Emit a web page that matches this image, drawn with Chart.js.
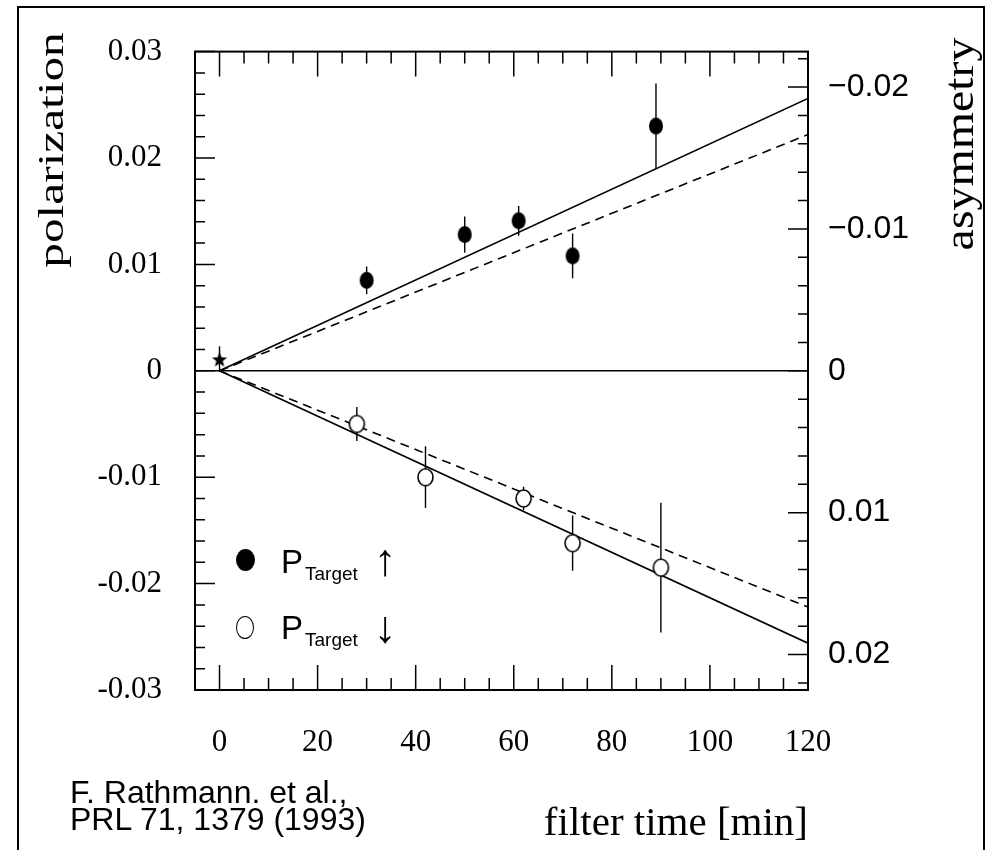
<!DOCTYPE html>
<html>
<head>
<meta charset="utf-8">
<script src="https://cdn.jsdelivr.net/npm/chart.js@4.4.3/dist/chart.umd.min.js"></script>
<style>
  html, body { margin: 0; padding: 0; background: #fff; }
  #wrap { position: relative; width: 989px; height: 850px; overflow: hidden; background: #fff; }
  #chart { position: absolute; left: 0; top: 0; }
  .frame { position: absolute; left: 17px; top: 6px; width: 964px; height: 900px; border: 2px solid #000; border-bottom: none; pointer-events: none; }
  .ytitle { position: absolute; font-family: "Liberation Serif", "Times New Roman", serif; color: #000; white-space: nowrap; line-height: 1; }
  .leg { position: absolute; font-family: "Liberation Sans", Arial, sans-serif; color: #000; white-space: nowrap; line-height: 1; }
  .arrow { position: absolute; font-family: "Liberation Sans", Arial, sans-serif; font-size: 45px; line-height: 1; color: #000; }
  .dot { position: absolute; border-radius: 50%; box-sizing: border-box; }
  .cite { position: absolute; left: 70px; top: 779px; font-family: "Liberation Sans", Arial, sans-serif; font-size: 32px; line-height: 27px; color: #000; white-space: nowrap; }
</style>
</head>
<body>
<div id="wrap">
  <canvas id="chart" width="989" height="850"></canvas>
  <div class="frame"></div>

  <div class="ytitle" style="left:51px; top:150px; font-size:36px; transform: translate(-50%, -50%) rotate(-90deg) scale(1.37, 1);">polarization</div>
  <div class="ytitle" style="left:959px; top:144px; font-size:42px; transform: translate(-50%, -50%) rotate(-90deg) scale(1.14, 1);">asymmetry</div>

  <div class="dot" style="left:236px; top:549px; width:19px; height:22px; background:#000;"></div>
  <div class="leg" style="left:281px; top:545px; font-size:33px;">P</div>
  <div class="leg" style="left:305px; top:564px; font-size:19px;">Target</div>
  <div class="arrow" style="left:374px; top:537px;">&#8593;</div>

  <div class="dot" style="left:236px; top:616px; width:18px; height:23px; background:#fff; border:1.6px solid #000;"></div>
  <div class="leg" style="left:281px; top:611px; font-size:33px;">P</div>
  <div class="leg" style="left:305px; top:630px; font-size:19px;">Target</div>
  <div class="arrow" style="left:374px; top:604px;">&#8595;</div>

  <div class="cite">F. Rathmann. et al.,<br>PRL 71, 1379 (1993)</div>
</div>
<script>
(function () {
  'use strict';

  // filter time [min] vs polarization, target spin up
  var upTime = [30, 50, 61, 72, 89];
  var upPol  = [0.0085, 0.0128, 0.0141, 0.0108, 0.0230];
  var upErr  = [0.0013, 0.0017, 0.0014, 0.0021, 0.0040];

  // target spin down
  var downTime = [28, 42, 62, 72, 90];
  var downPol  = [-0.0050, -0.0100, -0.0120, -0.0162, -0.0185];
  var downErr  = [0.0016, 0.0029, 0.0011, 0.0026, 0.0061];

  // reference point at t = 0
  var refTime = [0];
  var refPol  = [0.0011];
  var refErr  = [0.0012];

  // fitted lines
  var fitTime       = [0, 120];
  var fitUpSolid    = [0, 0.0256];
  var fitUpDashed   = [0, 0.0222];
  var fitDownSolid  = [0, -0.0256];
  var fitDownDashed = [0, -0.0222];
  var zeroTime      = [-5, 120];
  var zeroPol       = [0, 0];

  // axes
  var timeTicks      = [0, 20, 40, 60, 80, 100, 120];
  var timeTickLabels = ['0', '20', '40', '60', '80', '100', '120'];
  var polTicks       = [-0.03, -0.02, -0.01, 0, 0.01, 0.02, 0.03];
  var polTickLabels  = ['-0.03', '-0.02', '-0.01', '0', '0.01', '0.02', '0.03'];
  var asymTicks      = [-0.02, -0.01, 0, 0.01, 0.02];
  var asymTickLabels = ['\u22120.02', '\u22120.01', '0', '0.01', '0.02'];

  function ellipseMark(w, h, filled) {
    var c = document.createElement('canvas');
    c.width = w + 4; c.height = h + 4;
    var g = c.getContext('2d');
    g.beginPath();
    g.ellipse(c.width / 2, c.height / 2, w / 2, h / 2, 0, 0, Math.PI * 2);
    g.fillStyle = filled ? '#000' : '#fff';
    g.fill();
    if (!filled) { g.lineWidth = 1.6; g.strokeStyle = '#000'; g.stroke(); }
    return c;
  }

  function starMark(r) {
    var c = document.createElement('canvas');
    c.width = c.height = r * 2 + 4;
    var g = c.getContext('2d');
    var cx = c.width / 2, cy = c.height / 2 + 1;
    g.beginPath();
    for (var i = 0; i < 10; i++) {
      var rr = i % 2 === 0 ? r : r * 0.42;
      var a = -Math.PI / 2 + i * Math.PI / 5;
      g.lineTo(cx + rr * Math.cos(a), cy + rr * Math.sin(a));
    }
    g.closePath();
    g.fillStyle = '#000';
    g.fill();
    return c;
  }

  function pts(xs, ys) {
    return xs.map(function (x, i) { return { x: x, y: ys[i] }; });
  }

  function markerSet(xs, ys, img) {
    return { data: pts(xs, ys), pointStyle: img, pointRadius: 8, showLine: false, order: 0 };
  }

  function errorSets(xs, ys, es) {
    return xs.map(function (x, i) {
      return {
        data: [{ x: x, y: ys[i] - es[i] }, { x: x, y: ys[i] + es[i] }],
        showLine: true, borderColor: '#000', borderWidth: 1.4, pointRadius: 0, order: 1
      };
    });
  }

  function lineSet(xs, ys, dash) {
    return {
      data: pts(xs, ys), showLine: true, borderColor: '#000', borderWidth: 1.6,
      borderDash: dash || [], pointRadius: 0, order: 2
    };
  }

  var datasets = [
    markerSet(refTime, refPol, starMark(8)),
    markerSet(upTime, upPol, ellipseMark(14, 17, true)),
    markerSet(downTime, downPol, ellipseMark(15, 17, false))
  ]
    .concat(errorSets(refTime, refPol, refErr))
    .concat(errorSets(upTime, upPol, upErr))
    .concat(errorSets(downTime, downPol, downErr))
    .concat([
      lineSet(fitTime, fitUpSolid),
      lineSet(fitTime, fitUpDashed, [9, 6]),
      lineSet(fitTime, fitDownSolid),
      lineSet(fitTime, fitDownDashed, [9, 6]),
      lineSet(zeroTime, zeroPol)
    ]);

  // box frame with inward ticks on all four sides
  var frameTicks = {
    id: 'frameTicks',
    afterDraw: function (chart) {
      var ctx = chart.ctx, a = chart.chartArea;
      var sx = chart.scales.x, sy = chart.scales.y, sy2 = chart.scales.y2;
      var i, p, len;
      ctx.save();
      ctx.strokeStyle = '#000';
      ctx.lineWidth = 2;
      ctx.strokeRect(a.left, a.top, a.right - a.left, a.bottom - a.top);
      ctx.lineWidth = 1.5;
      ctx.beginPath();
      for (i = 0; i <= 24; i++) {
        p = sx.getPixelForValue(i * 5);
        len = i % 4 === 0 ? 25 : 12;
        ctx.moveTo(p, a.bottom); ctx.lineTo(p, a.bottom - len);
        ctx.moveTo(p, a.top); ctx.lineTo(p, a.top + len);
      }
      for (i = -15; i <= 15; i++) {
        p = sy.getPixelForValue(i * 0.002);
        len = i % 5 === 0 ? 20 : 10;
        ctx.moveTo(a.left, p); ctx.lineTo(a.left + len, p);
      }
      for (i = -11; i <= 11; i++) {
        p = sy2.getPixelForValue(i * 0.002);
        len = i % 5 === 0 ? 20 : 10;
        ctx.moveTo(a.right, p); ctx.lineTo(a.right - len, p);
      }
      ctx.stroke();
      ctx.restore();
    }
  };

  function fixedTicks(values) {
    return function (scale) {
      scale.ticks = values.map(function (v) { return { value: v }; });
    };
  }

  var serif = '"Liberation Serif", "Times New Roman", serif';
  var sans = '"Liberation Sans", Arial, sans-serif';

  new Chart(document.getElementById('chart'), {
    type: 'scatter',
    data: { datasets: datasets },
    options: {
      responsive: false,
      animation: false,
      layout: { padding: { top: 33, left: 0, right: 0, bottom: 0 } },
      plugins: { legend: { display: false }, tooltip: { enabled: false } },
      scales: {
        x: {
          type: 'linear', position: 'bottom', min: -5, max: 120,
          afterBuildTicks: fixedTicks(timeTicks),
          afterFit: function (s) { s.height = 160; },
          grid: { display: false, drawTicks: false },
          border: { display: false },
          ticks: {
            padding: 34, color: '#000', maxRotation: 0, autoSkip: false,
            font: { family: serif, size: 31 },
            callback: function (v, i) { return timeTickLabels[i]; }
          },
          title: {
            display: true, text: 'filter time [min]', align: 'end', color: '#000',
            font: { family: serif, size: 41 }, padding: { top: 0, bottom: 1 }
          }
        },
        y: {
          type: 'linear', position: 'left', min: -0.03, max: 0.03,
          afterBuildTicks: fixedTicks(polTicks),
          afterFit: function (s) { s.width = 195; },
          grid: { display: false, drawTicks: false },
          border: { display: false },
          ticks: {
            padding: 33, color: '#000', autoSkip: false,
            font: { family: serif, size: 31 },
            callback: function (v, i) { return polTickLabels[i]; }
          }
        },
        y2: {
          type: 'linear', position: 'right', min: -0.0225, max: 0.0225, reverse: true,
          afterBuildTicks: fixedTicks(asymTicks),
          afterFit: function (s) { s.width = 181; },
          grid: { display: false, drawTicks: false },
          border: { display: false },
          ticks: {
            padding: 20, color: '#000', autoSkip: false,
            font: { family: sans, size: 32 },
            callback: function (v, i) { return asymTickLabels[i]; }
          }
        }
      }
    },
    plugins: [frameTicks]
  });
})();
</script>
</body>
</html>
